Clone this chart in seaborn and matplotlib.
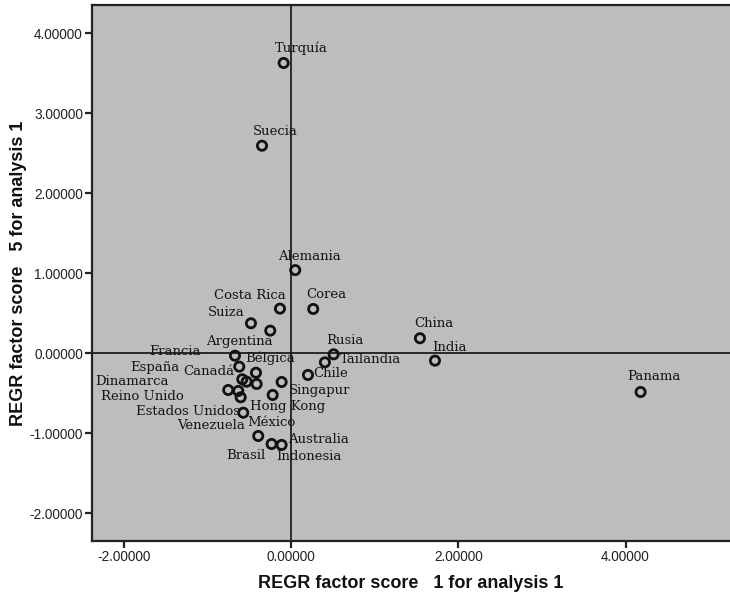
import pandas as pd
import matplotlib
matplotlib.use('Agg')
import matplotlib.pyplot as plt
import seaborn as sns

# factor scores
countries = ['Turquía', 'Suecia', 'Alemania', 'Costa Rica', 'Corea', 'Suiza',
             'Argentina', 'China', 'India', 'Rusia', 'Tailandia', 'Chile',
             'Panama', 'Francia', 'España', 'Bélgica', 'Canadá', 'Dinamarca',
             '', 'Reino Unido', 'Estados Unidos', 'Venezuela', 'Singapur',
             'Hong Kong', 'México', 'Brasil', 'Indonesia', 'Australia']
score1 = [-0.091, -0.350, 0.048, -0.135, 0.263, -0.482,
          -0.251, 1.540, 1.720, 0.507, 0.403, 0.200,
          4.180, -0.673, -0.622, -0.422, -0.586, -0.534,
          -0.414, -0.754, -0.634, -0.605, -0.115,
          -0.222, -0.574, -0.395, -0.235, -0.115]
score5 = [3.629, 2.595, 1.040, 0.558, 0.554, 0.375,
          0.283, 0.188, -0.092, -0.013, -0.113, -0.271,
          -0.484, -0.030, -0.167, -0.243, -0.325, -0.355,
          -0.384, -0.459, -0.471, -0.550, -0.359,
          -0.521, -0.743, -1.034, -1.134, -1.146]

x_ticks = [-2.0, 0.0, 2.0, 4.0]
y_ticks = [-2.0, -1.0, 0.0, 1.0, 2.0, 3.0, 4.0]

df = pd.DataFrame({'country': countries, 'f1': score1, 'f5': score5})

# where each label sits relative to its point (pixels, screen y down)
label_offsets = {
    'Turquía': (18, -15), 'Suecia': (13, -14), 'Alemania': (14, -14),
    'Costa Rica': (-30, -13), 'Corea': (13, -14), 'Suiza': (-25, -11),
    'Argentina': (-31, 11), 'China': (14, -15), 'India': (14, -13),
    'Rusia': (11, -14), 'Tailandia': (46, -3), 'Chile': (23, -1),
    'Panama': (13, -15), 'Francia': (-60, -4), 'España': (-84, 1),
    'Bélgica': (14, -14), 'Canadá': (-33, -8), 'Dinamarca': (-115, 0),
    'Reino Unido': (-86, 7), 'Estados Unidos': (-50, 21),
    'Venezuela': (-30, 28), 'Singapur': (38, 9), 'Hong Kong': (15, 12),
    'México': (28, 10), 'Brasil': (-12, 20), 'Indonesia': (37, 13),
    'Australia': (37, -5),
}

fig = plt.figure(figsize=(7.3, 5.93), dpi=100)
ax = fig.add_axes([92 / 730, 1 - 540.7 / 593, (730 - 92) / 730, 535.7 / 593])
ax.set_facecolor('#bdbdbd')

ax.axhline(0, color='#111111', lw=1.2, zorder=1)
ax.axvline(0, color='#111111', lw=1.2, zorder=1)

sns.scatterplot(data=df, x='f1', y='f5', ax=ax, marker='o', s=44,
                facecolors='none', edgecolor='#111111', linewidth=2.0,
                zorder=3, legend=False)

for name, x, y in zip(df['country'], df['f1'], df['f5']):
    if not name:
        continue
    dx, dy = label_offsets[name]
    ax.annotate(name, (x, y), xytext=(dx, -dy), textcoords='offset pixels',
                ha='center', va='center', fontsize=9.5,
                family='DejaVu Serif', color='#151515', zorder=4)

ax.set_xlim(-2.384, 5.25)
ax.set_ylim(-2.343, 4.354)
ax.set_xticks(x_ticks)
ax.set_yticks(y_ticks)
ax.set_xticklabels([f'{v:.5f}' for v in x_ticks], family='Liberation Sans', fontsize=9.8)
ax.set_yticklabels([f'{v:.5f}' for v in y_ticks], family='Liberation Sans', fontsize=9.8)
ax.tick_params(direction='out', length=5, width=1.6, color='#222222', pad=1.5,
               labelcolor='#222222')

for side in ['left', 'bottom', 'top']:
    ax.spines[side].set_linewidth(1.6)
    ax.spines[side].set_color('#222222')
ax.spines['right'].set_visible(False)

ax.set_xlabel('REGR factor score   1 for analysis 1', family='Liberation Sans',
              fontsize=13, fontweight='bold', labelpad=8, color='#111111')
ax.set_ylabel('REGR factor score   5 for analysis 1', family='Liberation Sans',
              fontsize=13, fontweight='bold', labelpad=2, color='#111111')

fig.savefig('out.png', dpi=100)
